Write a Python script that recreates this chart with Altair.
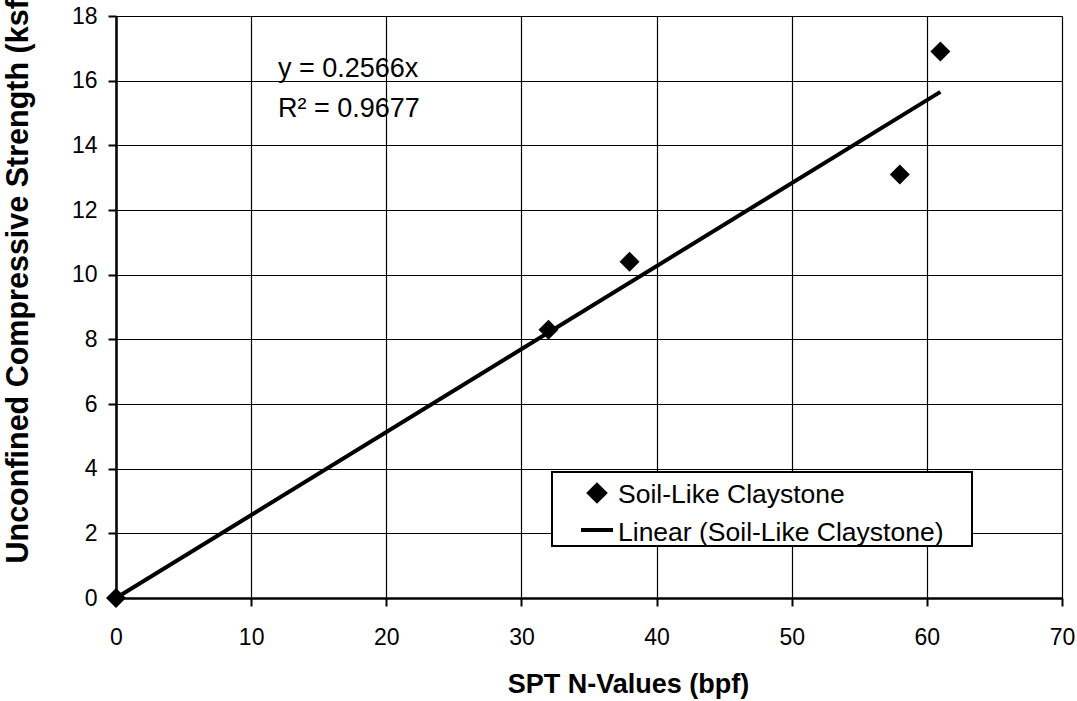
import altair as alt
import pandas as pd

# Measured SPT blow counts and unconfined compressive strengths
spt_n = [0, 32, 38, 58, 61]
ucs_ksf = [0, 8.3, 10.4, 13.1, 16.9]

series_point = "Soil-Like Claystone"
series_trend = "Linear (Soil-Like Claystone)"

# Linear trend through the origin
slope = 0.2566
r_squared = 0.9677
trend_x = [0, 61]

x_ticks = [0, 10, 20, 30, 40, 50, 60, 70]
y_ticks = [0, 2, 4, 6, 8, 10, 12, 14, 16, 18]

points = pd.DataFrame({"n": spt_n, "q": ucs_ksf})
trend = pd.DataFrame({"n": trend_x, "q": [slope * x for x in trend_x]})
eq_line = pd.DataFrame({"label": [f"y = {slope:.4f}x"]})
r2_line = pd.DataFrame({"label": [f"R\u00b2 = {r_squared:.4f}"]})
legend_point = pd.DataFrame({"label": [series_point]})
legend_trend = pd.DataFrame({"label": [series_trend]})

FONT = "Liberation Sans"
W, H = 946, 582
LEFT, TOP = 116, 16

x_scale = alt.Scale(domain=[0, 70], nice=False, zero=False)
y_scale = alt.Scale(domain=[0, 18], nice=False)

axis_common = dict(
    grid=True, gridColor="black", gridWidth=1.2,
    domainColor="black", domainWidth=2.5,
    tickColor="black", tickWidth=2, tickSize=8,
    labelFont=FONT, labelFontSize=23, labelColor="black", labelFlush=False,
    titleFont=FONT, titleFontWeight="bold", titleColor="black",
)

x_axis = alt.Axis(
    values=x_ticks, title="SPT N-Values (bpf)",
    labelBaseline="alphabetic", labelPadding=38,
    titleFontSize=27, titleX=512, titleY=94, titleBaseline="alphabetic",
    **axis_common,
)
y_axis = alt.Axis(
    values=y_ticks, title="Unconfined Compressive Strength (ksf)",
    labelPadding=11,
    titleFontSize=30.5, titleAngle=270, titleAlign="left",
    titleBaseline="alphabetic", titleX=-89, titleY=547,
    **axis_common,
)

scatter = alt.Chart(points).mark_point(
    shape="diamond", filled=True, color="black", size=400, opacity=1
).encode(
    x=alt.X("n:Q", scale=x_scale, axis=x_axis),
    y=alt.Y("q:Q", scale=y_scale, axis=y_axis),
)

trend_line = alt.Chart(trend).mark_line(color="black", strokeWidth=4).encode(
    x=alt.X("n:Q", scale=x_scale),
    y=alt.Y("q:Q", scale=y_scale),
)

text_style = dict(align="left", baseline="alphabetic", font=FONT, color="black")

eq_text = alt.Chart(eq_line).mark_text(fontSize=27, **text_style).encode(
    x=alt.value(162), y=alt.value(61), text="label:N"
)
r2_text = alt.Chart(r2_line).mark_text(fontSize=27, **text_style).encode(
    x=alt.value(162), y=alt.value(101), text="label:N"
)

# Legend box in the lower right of the plot
legend_box = alt.Chart(legend_point).mark_rect(
    fill="white", stroke="black", strokeWidth=2
).encode(x=alt.value(436), x2=alt.value(856), y=alt.value(456), y2=alt.value(530))

legend_diamond = alt.Chart(legend_point).mark_point(
    shape="diamond", filled=True, color="black", size=470, opacity=1
).encode(x=alt.value(481), y=alt.value(477))

legend_stroke = alt.Chart(legend_trend).mark_rule(color="black", strokeWidth=4).encode(
    x=alt.value(465), x2=alt.value(497), y=alt.value(514)
)

legend_label_1 = alt.Chart(legend_point).mark_text(fontSize=26.5, **text_style).encode(
    x=alt.value(502), y=alt.value(487), text="label:N"
)
legend_label_2 = alt.Chart(legend_trend).mark_text(fontSize=26.5, **text_style).encode(
    x=alt.value(502), y=alt.value(525), text="label:N"
)

chart = alt.layer(
    trend_line, scatter, eq_text, r2_text,
    legend_box, legend_diamond, legend_stroke, legend_label_1, legend_label_2,
).properties(
    width=W, height=H,
    autosize=alt.AutoSizeParams(type="none"),
    padding={"left": LEFT, "top": TOP, "right": 1077 - LEFT - W, "bottom": 701 - TOP - H},
).configure_view(stroke=None).configure(background="white")

chart.save("out.html", embed_options={"renderer": "svg", "actions": False})
